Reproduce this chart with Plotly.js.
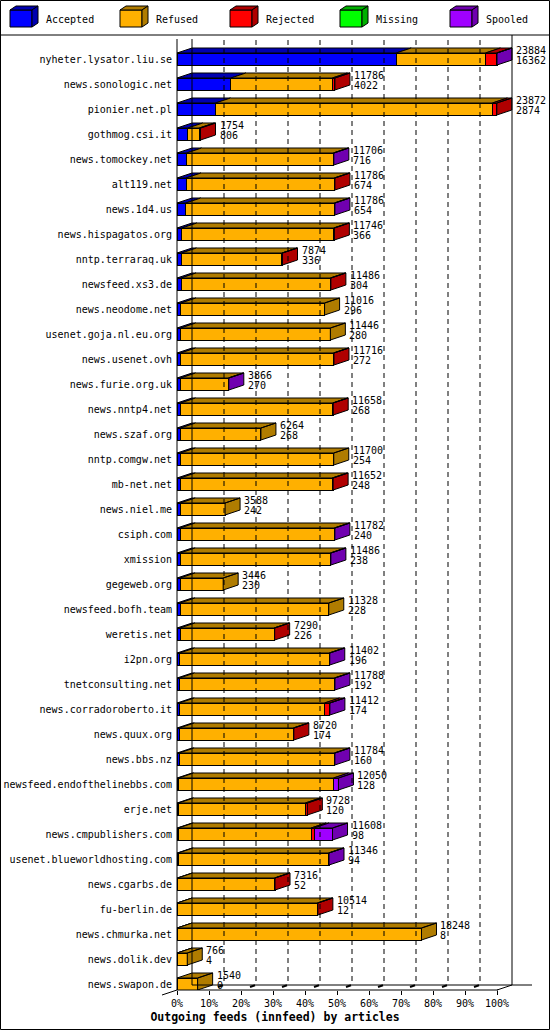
<!DOCTYPE html>
<html><head><meta charset="utf-8">
<script src="https://cdn.plot.ly/plotly-3.0.1.min.js"></script>
<style>html,body{margin:0;padding:0;background:#fff}#chart{width:550px;height:1030px}</style>
</head><body><div id="chart"></div>
<script>
const hosts = ['nyheter.lysator.liu.se','news.sonologic.net','pionier.net.pl','gothmog.csi.it','news.tomockey.net','alt119.net','news.1d4.us','news.hispagatos.org','nntp.terraraq.uk','newsfeed.xs3.de','news.neodome.net','usenet.goja.nl.eu.org','news.usenet.ovh','news.furie.org.uk','news.nntp4.net','news.szaf.org','nntp.comgw.net','mb-net.net','news.niel.me','csiph.com','xmission','gegeweb.org','newsfeed.bofh.team','weretis.net','i2pn.org','tnetconsulting.net','news.corradoroberto.it','news.quux.org','news.bbs.nz','newsfeed.endofthelinebbs.com','erje.net','news.cmpublishers.com','usenet.blueworldhosting.com','news.cgarbs.de','fu-berlin.de','news.chmurka.net','news.dolik.dev','news.swapon.de'];
const totals   = [23884,11786,23872,1754,11706,11786,11786,11746,7874,11486,11016,11446,11716,3866,11658,6264,11700,11652,3588,11782,11486,3446,11328,7290,11402,11788,11412,8720,11784,12050,9728,11608,11346,7316,10514,18248,766,1540];
const accepted = [16362,4022,2874,806,716,674,654,366,336,304,296,280,272,270,268,268,254,248,242,240,238,230,228,226,196,192,174,174,160,128,120,98,94,52,12,8,4,0];
const refused  = [6662,7574,20668,860,10950,11062,11092,11330,7498,11142,10720,11166,11404,3566,11350,5996,11446,11334,3346,11502,11208,3216,11100,7024,11166,11556,10838,8506,11584,11552,9458,9910,11212,7224,10462,18240,762,1540];
const rejected = [830,190,330,88,0,50,0,50,40,40,0,0,40,0,40,0,0,70,0,0,0,0,0,40,0,0,370,40,0,0,150,220,0,40,40,0,0,0];
const missing  = [0,0,0,0,0,0,0,0,0,0,0,0,0,0,0,0,0,0,0,0,0,0,0,0,0,0,0,0,0,0,0,0,0,0,0,0,0,0];
const spooled  = [30,0,0,0,40,0,40,0,0,0,0,0,0,30,0,0,0,0,0,40,40,0,0,0,40,40,30,0,40,370,0,1380,40,0,0,0,0,0];
const seriesNames = ['Accepted','Refused','Rejected','Missing','Spooled'];
const frontColors = ['#0000ff','#ffb000','#ff0000','#00ff00','#a000ff'];
const darkColors  = ['#0000b0','#b07c00','#b00000','#00b000','#7000b0'];
const xTicks = [0,10,20,30,40,50,60,70,80,90,100];
const titleText = 'Outgoing feeds (innfeed) by articles';

// geometry (pixels)
const W=550,H=1030,ML=177,MT=36,MB=40,MR=0;
const PW=W-ML-MR, PH=H-MT-MB;
const PXPCT=3.2, ROW=25, ROW0=59;
const DXP=15, DYP=5;
const xMax=PW/PXPCT;
const yTop=-(ROW0-MT)/ROW, yBot=(H-MB-ROW0)/ROW;
const dx=DXP/PXPCT, dy=DYP/ROW, half=0.24;
const FONT="DejaVu Sans Mono";
const PX=p=>(p-ML)/PW, PY=p=>(H-MB-p)/PH;
const fx=v=>ML+v*PXPCT; // percent -> px

const series=[accepted,refused,rejected,missing,spooled];
const maxT=Math.max(...totals);
const idx=hosts.map((_,i)=>i);
const pct=series.map(s=>s.map(v=>v/maxT*100));

const traces=[];
series.forEach((s,k)=>{
  traces.push({type:'bar',orientation:'h',y:idx,x:pct[k].map(v=>v>0?v:null),width:2*half,
    marker:{color:frontColors[k],line:{color:'#000',width:1}},name:seriesNames[k],showlegend:false,hoverinfo:'skip'});
});
const polys=series.map(()=>({x:[],y:[]}));
const ends=[];
idx.forEach(i=>{
  let cum=0,last=-1;
  series.forEach((s,k)=>{
    const v=pct[k][i];
    if(v>0){
      const x0=cum,x1=cum+v,yt=i-half;
      polys[k].x.push(x0,x1,x1+dx,x0+dx,x0,null);
      polys[k].y.push(yt,yt,yt-dy,yt-dy,yt,null);
      cum=x1;last=k;
    }
  });
  if(last>=0){
    polys[last].x.push(cum,cum,cum+dx,cum+dx,cum,null);
    polys[last].y.push(i+half,i-half,i-half-dy,i+half-dy,i+half,null);
  }
  ends.push(cum);
});
polys.forEach((p,k)=>{
  traces.push({type:'scatter',mode:'lines',x:p.x,y:p.y,fill:'toself',fillcolor:darkColors[k],
    line:{color:'#000',width:1},showlegend:false,hoverinfo:'skip',connectgaps:false});
});

const annotations=[];
idx.forEach(i=>{
  const xa=ends[i]+dx;
  annotations.push({x:xa,y:i-0.35,xref:'x',yref:'y',xshift:2,text:String(totals[i]),showarrow:false,xanchor:'left',yanchor:'middle',font:{family:FONT,size:10,color:'#000'}});
  annotations.push({x:xa,y:i+0.07,xref:'x',yref:'y',xshift:2,text:String(accepted[i]),showarrow:false,xanchor:'left',yanchor:'middle',font:{family:FONT,size:10,color:'#000'}});
});

const shapes=[];
const line=(x0,y0,x1,y1,extra)=>Object.assign({type:'line',xref:'paper',yref:'paper',x0:PX(x0),y0:PY(y0),x1:PX(x1),y1:PY(y1),line:{color:'#000',width:1}},extra||{});
shapes.push({type:'rect',xref:'paper',yref:'paper',x0:PX(0.5),x1:PX(549.5),y0:PY(0.5),y1:PY(1029.5),line:{color:'#000',width:1}});
shapes.push(line(0,35,550,35));
const floorFront=H-MB, floorBack=H-MB-DYP;
shapes.push(line(fx(0),39,fx(0),floorFront));
shapes.push(line(fx(0)+DXP,39,fx(0)+DXP,floorBack));
shapes.push(line(fx(100)+DXP,35,fx(100)+DXP,floorBack));
xTicks.slice(1,-1).forEach(t=>{
  shapes.push(line(fx(t)+DXP,40,fx(t)+DXP,floorBack,{line:{color:'#000',width:1,dash:'5px,4px'}}));
});
shapes.push(line(fx(0),floorFront,fx(100)+1,floorFront));
shapes.push(line(fx(0)+DXP,floorBack,fx(100)+DXP+20,floorBack));
shapes.push(line(fx(0)-DXP,floorFront+DYP,fx(0),floorFront));
shapes.push(line(fx(100),floorFront,fx(100)+DXP,floorBack));
xTicks.slice(1,-1).forEach(t=>{
  shapes.push(line(fx(t)+9,floorBack+2,fx(t)+14,floorBack+0.3,{line:{color:'#000',width:2}}));
});
// legend
seriesNames.forEach((n,k)=>{
  const x0=10+110*k, y0=10, w=22, h=17, d=6, u=4;
  const P=(x,y)=>PX(x)+','+PY(y);
  shapes.push({type:'rect',xref:'paper',yref:'paper',x0:PX(x0),x1:PX(x0+w),y0:PY(y0+h),y1:PY(y0),fillcolor:frontColors[k],line:{color:'#000',width:1}});
  shapes.push({type:'path',xref:'paper',yref:'paper',path:'M'+P(x0,y0)+'L'+P(x0+d,y0-u)+'L'+P(x0+w+d,y0-u)+'L'+P(x0+w,y0)+'Z',fillcolor:darkColors[k],line:{color:'#000',width:1}});
  shapes.push({type:'path',xref:'paper',yref:'paper',path:'M'+P(x0+w,y0)+'L'+P(x0+w+d,y0-u)+'L'+P(x0+w+d,y0+h-u)+'L'+P(x0+w,y0+h)+'Z',fillcolor:darkColors[k],line:{color:'#000',width:1}});
  annotations.push({xref:'paper',yref:'paper',x:PX(x0+34),y:PY(19.5),text:n,showarrow:false,xanchor:'left',yanchor:'middle',font:{family:FONT,size:10,color:'#000'}});
});

const layout={
  width:W,height:H,margin:{l:ML,r:MR,t:MT,b:MB,pad:0},
  paper_bgcolor:'#fff',plot_bgcolor:'#fff',
  barmode:'stack',bargap:0,
  font:{family:FONT,size:10,color:'#000'},
  title:{text:titleText,xref:'container',yref:'container',x:0.5,xanchor:'center',y:(H-1017)/H,yanchor:'middle',font:{family:FONT,size:11.5,weight:'bold',color:'#000'}},
  xaxis:{range:[0,xMax],tickvals:xTicks,ticktext:xTicks.map(t=>t+'%'),ticks:'outside',ticklen:4,tickcolor:'#000',
    showgrid:false,zeroline:false,showline:false,automargin:false,fixedrange:true,tickfont:{family:FONT,size:10}},
  yaxis:{range:[yBot,yTop],tickvals:idx,ticktext:hosts,ticks:'',ticklabelstandoff:4,showgrid:false,zeroline:false,showline:false,automargin:false,fixedrange:true,tickfont:{family:FONT,size:10}},
  shapes:shapes,annotations:annotations,showlegend:false
};
Plotly.newPlot('chart',traces,layout,{staticPlot:true,displayModeBar:false});
</script></body></html>
